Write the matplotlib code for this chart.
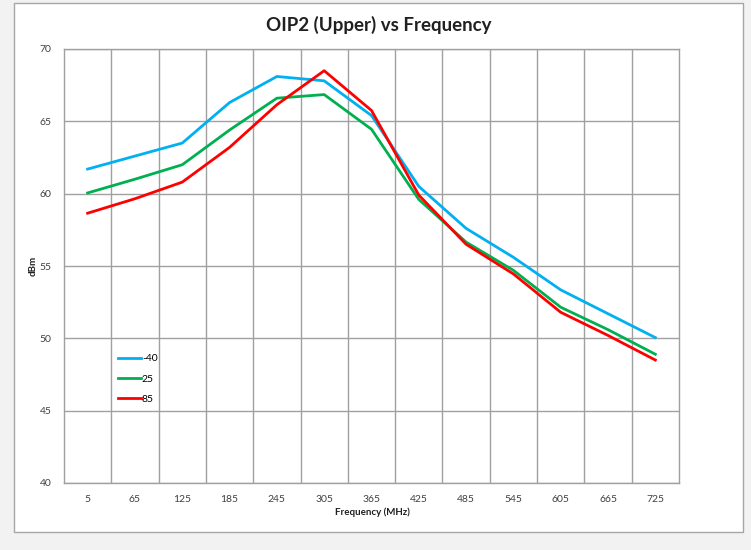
import numpy as np
import matplotlib
matplotlib.use('Agg')
import matplotlib.pyplot as plt
from matplotlib.patches import Rectangle

plt.rcParams['font.family'] = ['Lato', 'DejaVu Sans']

freqs = ['5', '65', '125', '185', '245', '305', '365', '425', '485', '545', '605', '665', '725']
m40 = [61.7, 62.6, 63.5, 66.3, 68.1, 67.8, 65.4, 60.5, 57.6, 55.6, 53.35, 51.7, 50.05]
p25 = [60.05, 61.0, 62.0, 64.4, 66.6, 66.85, 64.45, 59.6, 56.65, 54.7, 52.15, 50.6, 48.9]
p85 = [58.65, 59.65, 60.8, 63.2, 66.15, 68.5, 65.75, 59.9, 56.5, 54.45, 51.8, 50.2, 48.5]

W, H = 751, 550
fig = plt.figure(figsize=(W / 100, H / 100), dpi=100)
fig.patch.set_facecolor('#f2f2f2')
# chart area frame
fig.add_artist(Rectangle((14 / W, 1 - 532 / H), (743 - 14) / W, (532 - 3) / H,
                         transform=fig.transFigure, facecolor='white',
                         edgecolor='#a6a6a6', linewidth=1, zorder=0))

ax = fig.add_axes([64 / W, 1 - 483 / H, (679 - 64) / W, (483 - 49) / H])
ax.set_facecolor('white')
x = np.arange(len(freqs))
ax.plot(x, m40, color='#00b0f0', lw=2, label='-40', zorder=3)
ax.plot(x, p25, color='#00b050', lw=2, label='25', zorder=3)
ax.plot(x, p85, color='#ff0000', lw=2, label='85', zorder=3)

ax.set_xlim(-0.5, len(freqs) - 0.5)
ax.set_ylim(40, 70)
ax.set_xticks(x)
ax.set_xticklabels(freqs)
ax.set_xticks(x[:-1] + 0.5, minor=True)
ax.set_yticks(np.arange(40, 71, 5))
ax.tick_params(axis='both', which='both', length=0, labelsize=7.5, colors='#404040')
ax.tick_params(axis='x', pad=9)
ax.tick_params(axis='y', pad=9)
ax.grid(True, axis='y', which='major', color='#a0a0a0', lw=1)
ax.grid(True, axis='x', which='minor', color='#a0a0a0', lw=1)
for s in ax.spines.values():
    s.set_color('#a0a0a0')
    s.set_linewidth(1)

fig.text(379 / W, 1 - 25 / H, 'OIP2 (Upper) vs Frequency', ha='center', va='center',
         fontsize=13.5, fontweight='bold', color='#202020')
fig.text(372 / W, 1 - 512 / H, 'Frequency (MHz)', ha='center', va='center',
         fontsize=7, fontweight='bold', color='#202020')
fig.text(33 / W, 1 - 266 / H, 'dBm', ha='center', va='center', rotation=90,
         fontsize=7, fontweight='bold', color='#202020')

ax.legend(loc='upper left', bbox_to_anchor=((118 - 64) / 615, (483 - 354) / 434),
          frameon=False, fontsize=7.5, handlelength=2.2, handletextpad=0.1,
          labelspacing=1.05, borderpad=0, borderaxespad=0)

fig.savefig('out.png', dpi=100, facecolor=fig.get_facecolor())
